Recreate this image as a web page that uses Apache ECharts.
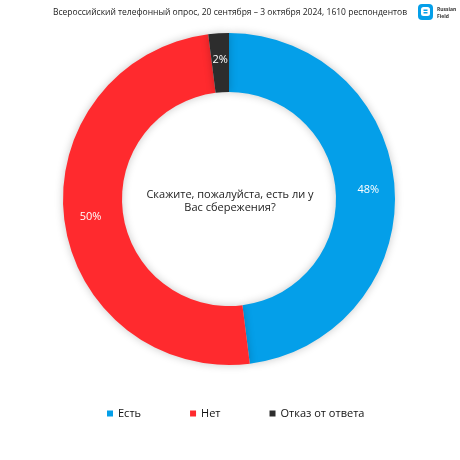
<!DOCTYPE html>
<html><head><meta charset="utf-8">
<script src="https://cdn.jsdelivr.net/npm/echarts@6/dist/echarts.min.js"></script>
<style>html,body{margin:0;padding:0;background:#fff}#c{width:460px;height:460px}</style>
</head><body><div id="c"></div>
<script>
const categories = ['Есть', 'Нет', 'Отказ от ответа'];
const values = [48, 50, 2];
const colors = ['#049fe9', '#ff2a2e', '#2d2d2d'];
const titleText = 'Всероссийский телефонный опрос, 20 сентября – 3 октября 2024, 1610 респондентов';
const centerText = 'Скажите, пожалуйста, есть ли у\nВас сбережения?';

const chart = echarts.init(document.getElementById('c'), null, {renderer: 'canvas'});
const font = '"Open Sans", "Noto Sans", sans-serif';
chart.setOption({
  animation: false,
  textStyle: {fontFamily: font},
  graphic: [
    {type: 'text', z: 10, style: {x: 230, y: 13, text: titleText, fontSize: 8.5, fill: '#222', align: 'center', verticalAlign: 'middle', fontFamily: font}},
    {type: 'rect', z: 10, shape: {x: 418, y: 4, width: 15, height: 16, r: 4}, style: {fill: '#049fe9'}},
    {type: 'rect', z: 10, shape: {x: 421, y: 7, width: 9, height: 9, r: 2.5}, style: {fill: '#fff'}},
    {type: 'rect', z: 10, shape: {x: 423.5, y: 9.5, width: 4, height: 1.5}, style: {fill: '#049fe9'}},
    {type: 'rect', z: 10, shape: {x: 423.5, y: 12, width: 4, height: 1.5}, style: {fill: '#049fe9'}},
    {type: 'text', z: 10, style: {x: 437, y: 6, text: 'Russian\nField', fontSize: 5, fontWeight: 'bold', fill: '#333', lineHeight: 7, fontFamily: font}},
    {type: 'text', z: 10, style: {x: 230, y: 201, text: centerText, fontSize: 11, fill: '#222', align: 'center', verticalAlign: 'middle', lineHeight: 13, fontFamily: font}}
  ],
  legend: {
    top: 403, left: 102, itemWidth: 6, itemHeight: 6, itemGap: 49, icon: 'rect',
    textStyle: {fontSize: 11, color: '#111', fontFamily: font},
    data: categories
  },
  series: [{
    type: 'pie',
    center: [229, 199], radius: [107, 166],
    startAngle: 90, clockwise: true,
    itemStyle: {shadowBlur: 8, shadowColor: 'rgba(0,0,0,0.22)'},
    label: {show: true, position: 'inside', formatter: '{d}%', color: '#fff', fontSize: 11, fontFamily: font},
    labelLine: {show: false},
    data: categories.map((c, i) => ({name: c, value: values[i], itemStyle: {color: colors[i]}}))
  }]
});
</script></body></html>
